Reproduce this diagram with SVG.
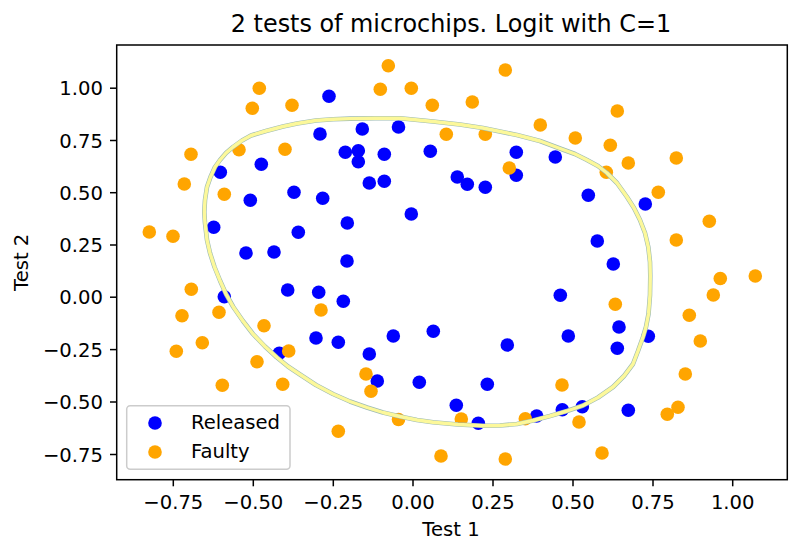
<svg xmlns="http://www.w3.org/2000/svg" width="800" height="554" viewBox="0 0 800 554">
<style>
text{font-family:"DejaVu Sans","Liberation Sans",sans-serif;fill:#000}
.tk{font-size:19.6px}
.yt{text-anchor:end}
.xt{text-anchor:middle}
.tl{stroke:#000;stroke-width:1.5}
.r{fill:#0000ff}
.f{fill:#ffa500}
</style>
<defs>
<polygon id="db-shape" points="400,118.3 433,121.5 460,124.5 483,128 517,135 540,141 560,148.5 575,154 587,160 598,166 607,173 617,183 627,197 634,208 640,220 645,233 648.3,247 650,262 650.3,276 650,295 648.5,314 646,327 643,337 638,351 633,364 624,376 613,387 598,397.5 583,405.5 567,411 550,416 533,420.5 517,424 500,425.5 483,425.8 458,424.5 433,422.3 417,420 400,416.5 383,412.5 367,407.5 350,401.5 333,394 316,385 300,374.5 288,366.5 277,357.5 265,346.5 253,334 243,321 233.3,307 226,294 220,280.5 214.5,267 210,253 207,240 205,223 204.3,212 205,200 207,187 210.5,177 215,167 220,160 226,153 233,147 242,140.5 251,135.5 266,131 283,126.5 297,123.5 316,120.5 333,119.3 350,118.6 375,118.3"/>
</defs>
<rect width="800" height="554" fill="#fff"/>
<g id="points-released">
<circle class="r" r="6.8" cx="329" cy="96.3"/><circle class="r" r="6.8" cx="320" cy="134"/><circle class="r" r="6.8" cx="362.3" cy="129"/><circle class="r" r="6.8" cx="398.5" cy="127"/><circle class="r" r="6.8" cx="345.3" cy="152.3"/><circle class="r" r="6.8" cx="358.3" cy="150.7"/><circle class="r" r="6.8" cx="358.3" cy="161.7"/><circle class="r" r="6.8" cx="384.3" cy="154.3"/><circle class="r" r="6.8" cx="261.3" cy="164.3"/><circle class="r" r="6.8" cx="220.3" cy="172.3"/><circle class="r" r="6.8" cx="369.3" cy="183"/><circle class="r" r="6.8" cx="384.3" cy="181.3"/><circle class="r" r="6.8" cx="250.3" cy="200.3"/><circle class="r" r="6.8" cx="294" cy="192.3"/><circle class="r" r="6.8" cx="322.7" cy="198.3"/><circle class="r" r="6.8" cx="213.7" cy="227.3"/><circle class="r" r="6.8" cx="347.3" cy="223"/><circle class="r" r="6.8" cx="298.3" cy="232.3"/><circle class="r" r="6.8" cx="246" cy="253"/><circle class="r" r="6.8" cx="274" cy="252"/><circle class="r" r="6.8" cx="347" cy="261"/>
<circle class="r" r="6.8" cx="430.3" cy="151.3"/><circle class="r" r="6.8" cx="516.3" cy="152.3"/><circle class="r" r="6.8" cx="555.3" cy="157"/><circle class="r" r="6.8" cx="457.3" cy="177"/><circle class="r" r="6.8" cx="467.3" cy="184.3"/><circle class="r" r="6.8" cx="485.3" cy="187.3"/><circle class="r" r="6.8" cx="516.3" cy="175.3"/><circle class="r" r="6.8" cx="411.3" cy="214"/><circle class="r" r="6.8" cx="588.3" cy="195.3"/><circle class="r" r="6.8" cx="645.3" cy="204"/><circle class="r" r="6.8" cx="597.3" cy="241"/><circle class="r" r="6.8" cx="613.3" cy="264"/>
<circle class="r" r="6.8" cx="224.3" cy="296.7"/><circle class="r" r="6.8" cx="287.7" cy="290"/><circle class="r" r="6.8" cx="318.7" cy="292.3"/><circle class="r" r="6.8" cx="343.3" cy="301.3"/><circle class="r" r="6.8" cx="316" cy="338"/><circle class="r" r="6.8" cx="338.3" cy="342.3"/><circle class="r" r="6.8" cx="369.3" cy="354"/><circle class="r" r="6.8" cx="393.3" cy="336"/><circle class="r" r="6.8" cx="279.3" cy="353.3"/><circle class="r" r="6.8" cx="377.3" cy="381"/>
<circle class="r" r="6.8" cx="560.3" cy="295.3"/><circle class="r" r="6.8" cx="433.3" cy="331.3"/><circle class="r" r="6.8" cx="568.3" cy="336"/><circle class="r" r="6.8" cx="507.3" cy="345"/><circle class="r" r="6.8" cx="619" cy="327"/><circle class="r" r="6.8" cx="617.3" cy="348.3"/><circle class="r" r="6.8" cx="648.3" cy="336.3"/><circle class="r" r="6.8" cx="419.3" cy="382.3"/><circle class="r" r="6.8" cx="487.3" cy="384.3"/><circle class="r" r="6.8" cx="456.3" cy="405.3"/><circle class="r" r="6.8" cx="478.3" cy="423.3"/><circle class="r" r="6.8" cx="536.7" cy="416"/><circle class="r" r="6.8" cx="562.3" cy="409.7"/><circle class="r" r="6.8" cx="582.3" cy="406.7"/><circle class="r" r="6.8" cx="628.3" cy="410.3"/>
</g>
<g id="points-faulty">
<circle class="f" r="6.8" cx="388.3" cy="65.7"/><circle class="f" r="6.8" cx="259.3" cy="88.3"/><circle class="f" r="6.8" cx="380.3" cy="89.3"/><circle class="f" r="6.8" cx="252.3" cy="108.3"/><circle class="f" r="6.8" cx="292" cy="105.3"/><circle class="f" r="6.8" cx="191" cy="154.3"/><circle class="f" r="6.8" cx="239" cy="149.7"/><circle class="f" r="6.8" cx="285" cy="149.3"/><circle class="f" r="6.8" cx="184.3" cy="184"/><circle class="f" r="6.8" cx="224.3" cy="194.3"/><circle class="f" r="6.8" cx="149.3" cy="232"/><circle class="f" r="6.8" cx="173" cy="236.3"/>
<circle class="f" r="6.8" cx="505.3" cy="70"/><circle class="f" r="6.8" cx="411.3" cy="88.3"/><circle class="f" r="6.8" cx="432.3" cy="105.3"/><circle class="f" r="6.8" cx="472.3" cy="102"/><circle class="f" r="6.8" cx="446.3" cy="134.3"/><circle class="f" r="6.8" cx="485.3" cy="134.3"/><circle class="f" r="6.8" cx="540.3" cy="125"/><circle class="f" r="6.8" cx="617.3" cy="111"/><circle class="f" r="6.8" cx="575.3" cy="138"/><circle class="f" r="6.8" cx="610.3" cy="145.3"/><circle class="f" r="6.8" cx="509.3" cy="168"/><circle class="f" r="6.8" cx="606.3" cy="172.3"/><circle class="f" r="6.8" cx="628.3" cy="163"/><circle class="f" r="6.8" cx="676.3" cy="158"/><circle class="f" r="6.8" cx="658.3" cy="192.3"/><circle class="f" r="6.8" cx="709.3" cy="221.3"/><circle class="f" r="6.8" cx="676.3" cy="240"/><circle class="f" r="6.8" cx="720.3" cy="278.5"/><circle class="f" r="6.8" cx="755.3" cy="276"/>
<circle class="f" r="6.8" cx="191.3" cy="289.3"/><circle class="f" r="6.8" cx="182" cy="315.7"/><circle class="f" r="6.8" cx="219" cy="312.3"/><circle class="f" r="6.8" cx="264" cy="325.7"/><circle class="f" r="6.8" cx="321" cy="310"/><circle class="f" r="6.8" cx="202.3" cy="342.7"/><circle class="f" r="6.8" cx="176.3" cy="351.3"/><circle class="f" r="6.8" cx="288.7" cy="351"/><circle class="f" r="6.8" cx="257" cy="361.7"/><circle class="f" r="6.8" cx="222.3" cy="385.3"/><circle class="f" r="6.8" cx="282.7" cy="384.3"/><circle class="f" r="6.8" cx="366" cy="374"/><circle class="f" r="6.8" cx="371" cy="391.3"/><circle class="f" r="6.8" cx="338.3" cy="431.3"/><circle class="f" r="6.8" cx="398.5" cy="419.5"/>
<circle class="f" r="6.8" cx="615.3" cy="304.3"/><circle class="f" r="6.8" cx="713.3" cy="295"/><circle class="f" r="6.8" cx="689.3" cy="315.3"/><circle class="f" r="6.8" cx="700.3" cy="341"/><circle class="f" r="6.8" cx="562" cy="385"/><circle class="f" r="6.8" cx="685.3" cy="374"/><circle class="f" r="6.8" cx="678" cy="407.3"/><circle class="f" r="6.8" cx="667.3" cy="414.3"/><circle class="f" r="6.8" cx="461.3" cy="419"/><circle class="f" r="6.8" cx="525.3" cy="418.7"/><circle class="f" r="6.8" cx="579" cy="422"/><circle class="f" r="6.8" cx="441" cy="456"/><circle class="f" r="6.8" cx="505.3" cy="459"/><circle class="f" r="6.8" cx="602" cy="453"/>
</g>
<g id="decision-boundary" fill="none" stroke-linejoin="round">
<use href="#db-shape" stroke="#9cbab4" stroke-width="4.6"/>
<use href="#db-shape" stroke="#fcf89a" stroke-width="3.4"/>
</g>
<g id="axes">
<rect x="116.7" y="45" width="670.6" height="434.7" fill="none" stroke="#000" stroke-width="1.5"/>
<g id="x-ticks">
<line class="tl" x1="173.3" y1="479.7" x2="173.3" y2="486.3"/><line class="tl" x1="253.3" y1="479.7" x2="253.3" y2="486.3"/><line class="tl" x1="333.3" y1="479.7" x2="333.3" y2="486.3"/><line class="tl" x1="413" y1="479.7" x2="413" y2="486.3"/><line class="tl" x1="493" y1="479.7" x2="493" y2="486.3"/><line class="tl" x1="573" y1="479.7" x2="573" y2="486.3"/><line class="tl" x1="653" y1="479.7" x2="653" y2="486.3"/><line class="tl" x1="732.7" y1="479.7" x2="732.7" y2="486.3"/>
<text class="tk xt" x="173.3" y="509">−0.75</text><text class="tk xt" x="253.3" y="509">−0.50</text><text class="tk xt" x="333.3" y="509">−0.25</text><text class="tk xt" x="413" y="509">0.00</text><text class="tk xt" x="493" y="509">0.25</text><text class="tk xt" x="573" y="509">0.50</text><text class="tk xt" x="653" y="509">0.75</text><text class="tk xt" x="732.7" y="509">1.00</text>
</g>
<g id="y-ticks">
<line class="tl" x1="110" y1="88.2" x2="116.7" y2="88.2"/><line class="tl" x1="110" y1="140.5" x2="116.7" y2="140.5"/><line class="tl" x1="110" y1="192.7" x2="116.7" y2="192.7"/><line class="tl" x1="110" y1="245" x2="116.7" y2="245"/><line class="tl" x1="110" y1="297.2" x2="116.7" y2="297.2"/><line class="tl" x1="110" y1="349.6" x2="116.7" y2="349.6"/><line class="tl" x1="110" y1="402" x2="116.7" y2="402"/><line class="tl" x1="110" y1="454.5" x2="116.7" y2="454.5"/>
<text class="tk yt" x="103" y="95.2">1.00</text><text class="tk yt" x="103" y="147.5">0.75</text><text class="tk yt" x="103" y="199.7">0.50</text><text class="tk yt" x="103" y="252">0.25</text><text class="tk yt" x="103" y="304.2">0.00</text><text class="tk yt" x="103" y="356.6">−0.25</text><text class="tk yt" x="103" y="409">−0.50</text><text class="tk yt" x="103" y="461.5">−0.75</text>
</g>
<text class="tk xt" x="451" y="535.7">Test 1</text>
<text class="tk xt" transform="translate(28,262.3) rotate(-90)">Test 2</text>
<text x="451" y="31.7" style="font-size:23.9px;text-anchor:middle">2 tests of microchips. Logit with C=1</text>
</g>
<g id="legend">
<rect x="126.7" y="405.7" width="163.3" height="63.6" rx="3.5" fill="#fff" fill-opacity="0.8" stroke="#cccccc" stroke-width="1.5"/>
<circle class="r" r="6.8" cx="155" cy="423"/>
<circle class="f" r="6.8" cx="155" cy="452"/>
<text class="tk" x="191" y="429">Released</text>
<text class="tk" x="191" y="458">Faulty</text>
</g>
</svg>
